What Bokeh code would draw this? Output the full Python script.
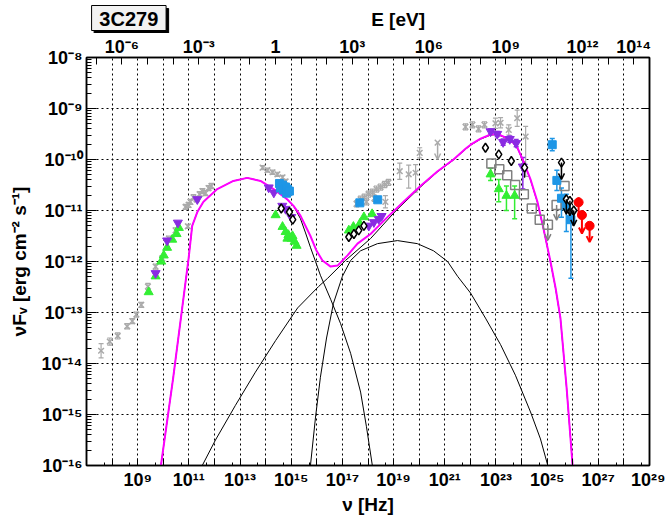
import numpy as np
from bokeh.plotting import figure
from bokeh.layouts import column
from bokeh.core.properties import value
from bokeh.models import (ColumnDataSource, Range1d, LogScale, LogAxis, FixedTicker,
                          CustomJSTickFormatter, Whisker, TeeHead, Arrow, OpenHead)
from bokeh.embed import file_html
from bokeh.resources import INLINE

H_EV = 4.135667696e-15  # eV s, converts nu [Hz] to E [eV]

# ---------------- texts / tick labels ----------------
source_name = "3C279"
x_title = "ν [Hz]"
top_title = "E [eV]"
y_title = "νFᵥ [erg cm⁻² s⁻¹]"
nu_label_exps = [9, 11, 13, 15, 17, 19, 21, 23, 25, 27, 29]
nu_labels = ["10⁹", "10¹¹", "10¹³", "10¹⁵", "10¹⁷", "10¹⁹", "10²¹", "10²³", "10²⁵", "10²⁷", "10²⁹"]
e_label_exps = [-6, -3, 0, 3, 6, 9, 12, 14]
e_labels = ["10⁻⁶", "10⁻³", "1", "10³", "10⁶", "10⁹", "10¹²", "10¹⁴"]
f_label_exps = [-8, -9, -10, -11, -12, -13, -14, -15, -16]
f_labels = ["10⁻⁸", "10⁻⁹", "10⁻¹⁰", "10⁻¹¹", "10⁻¹²", "10⁻¹³", "10⁻¹⁴", "10⁻¹⁵", "10⁻¹⁶"]

# ---------------- model curves (log10 nu, log10 nuFnu) ----------------
total_lognu = [9.88, 10.39, 10.74, 10.99, 11.13, 11.33, 11.57, 12.11, 12.74, 13.28, 13.80, 14.31,
               14.84, 15.09, 15.36, 15.75, 15.99, 16.22, 16.54, 16.81, 17.20, 17.59, 18.10, 18.76,
               19.39, 20.05, 20.72, 21.34, 21.81, 22.01, 22.40, 22.79, 23.06, 23.30, 23.57, 23.84,
               24.08, 24.35, 24.62, 24.86, 25.13, 25.33, 25.52, 25.76, 26.01]
total_logf = [-16.1, -14.27, -12.91, -11.94, -11.30, -11.03, -10.83, -10.58, -10.42, -10.36, -10.42, -10.58,
              -10.78, -10.91, -11.10, -11.50, -11.79, -11.98, -12.10, -12.08, -11.88, -11.65, -11.46, -11.13,
              -10.83, -10.52, -10.23, -10.00, -9.79, -9.71, -9.59, -9.51, -9.50, -9.55, -9.61, -9.77,
              -10.04, -10.39, -10.83, -11.36, -12.00, -12.52, -13.11, -14.47, -16.1]

sync_lognu = [9.88, 10.39, 10.74, 10.99, 11.13, 11.33, 11.57, 12.11, 12.74, 13.28, 13.80, 14.31,
              14.84, 15.09, 15.36, 15.56, 15.75, 15.95, 16.14, 16.54, 16.93, 17.32, 17.71, 17.94, 18.20]
sync_logf = [-16.1, -14.27, -12.91, -11.94, -11.30, -11.03, -10.83, -10.58, -10.42, -10.36, -10.42, -10.58,
             -10.78, -10.91, -11.16, -11.44, -11.72, -12.00, -12.27, -12.74, -13.22, -13.80, -14.56, -15.24, -16.1]

ec_lognu = [11.42, 12.04, 12.82, 13.60, 14.39, 15.25, 16.07, 16.42, 17.12, 18.10, 19.08, 20.05, 20.72,
            21.34, 21.81, 22.01, 22.40, 22.79, 23.06, 23.30, 23.57, 23.84, 24.08, 24.35, 24.62, 24.86,
            25.13, 25.33, 25.52, 25.76, 26.01]
ec_logf = [-16.1, -15.50, -14.82, -14.17, -13.55, -12.91, -12.49, -12.33, -11.98, -11.55, -11.01, -10.54, -10.24,
           -10.01, -9.80, -9.72, -9.60, -9.52, -9.51, -9.56, -9.62, -9.78, -10.05, -10.40, -10.84, -11.37,
           -12.01, -12.53, -13.12, -14.48, -16.1]

ssc_lognu = [15.73, 15.95, 16.14, 16.38, 16.65, 17.00, 17.32, 17.71, 18.37, 19.15, 19.93, 20.56, 21.11,
             21.50, 22.01, 22.59, 23.18, 23.76, 24.35, 24.74, 25.08]
ssc_logf = [-16.1, -15.05, -14.27, -13.50, -12.82, -12.29, -11.98, -11.79, -11.65, -11.59, -11.65, -11.79, -12.00,
            -12.29, -12.62, -13.11, -13.63, -14.23, -14.95, -15.48, -16.1]

# ---------------- data points ----------------
# archival (grey crosses)
gray_lognu = [7.57, 7.91, 8.22, 8.59, 8.79, 8.95, 9.14, 9.40, 9.70, 9.70,
              9.96, 10.22, 10.48, 10.96, 10.87, 10.99, 11.06, 11.18, 11.30, 11.42,
              11.53, 11.65, 11.77, 11.88,
              13.88, 14.07, 14.27, 14.46, 14.66, 14.78,
              17.55, 17.71, 17.86, 17.94, 18.02, 18.18, 18.25, 18.33, 18.49, 18.65,
              18.68, 18.80,
              19.24, 19.59, 19.86, 20.02,
              21.81, 22.08, 22.32, 22.55, 22.98, 23.18, 23.50, 23.83, 24.16]
gray_logf = [-13.75, -13.57, -13.46, -13.27, -13.17, -13.04, -12.85, -12.49, -12.27, -12.10,
             -11.94, -11.55, -11.39, -11.31, -10.93, -10.89, -10.83, -10.74, -10.78, -10.68,
             -10.62, -10.66, -10.56, -10.52,
             -10.16, -10.21, -10.25, -10.29, -10.35, -10.43,
             -10.87, -10.78, -10.74, -10.83, -10.68, -10.64, -10.76, -10.58, -10.54, -10.49,
             -10.83, -10.45,
             -10.23, -10.29, -10.26, -9.87,
             -9.36, -9.32, -9.40, -9.32, -9.29, -9.28, -9.42, -9.19, -9.55]
gray_err_hi = [0.14, 0.07, 0.06, 0.05, 0.05, 0.05, 0.05, 0.06, 0.05, 0.05,
               0.05, 0.05, 0.05, 0.04, 0.05, 0.05, 0.05, 0.05, 0.05, 0.05,
               0.05, 0.05, 0.05, 0.05,
               0.04, 0.04, 0.04, 0.04, 0.04, 0.04,
               0.06, 0.06, 0.06, 0.06, 0.06, 0.06, 0.06, 0.06, 0.06, 0.06,
               0.12, 0.06,
               0.16, 0.18, 0.16, 0.10,
               0.06, 0.06, 0.06, 0.06, 0.10, 0.10, 0.10, 0.16, 0.20]
gray_err_lo = [0.14, 0.07, 0.06, 0.05, 0.05, 0.05, 0.05, 0.06, 0.05, 0.05,
               0.05, 0.05, 0.05, 0.04, 0.05, 0.05, 0.05, 0.05, 0.05, 0.05,
               0.05, 0.05, 0.05, 0.05,
               0.04, 0.04, 0.04, 0.04, 0.04, 0.04,
               0.06, 0.06, 0.06, 0.06, 0.06, 0.06, 0.06, 0.06, 0.06, 0.06,
               0.12, 0.06,
               0.16, 0.27, 0.38, 0.10,
               0.06, 0.06, 0.06, 0.06, 0.10, 0.10, 0.10, 0.16, 0.78]
gray_ul_lognu = [20.72]
gray_ul_logf = [-9.67]
gray_ul_end = [-10.00]

# open black diamonds
diam_lognu = [14.61, 14.93, 15.06, 17.25, 17.45, 17.64, 17.84, 22.59, 23.11, 23.60, 24.12]
diam_logf = [-10.96, -11.03, -11.18, -11.52, -11.46, -11.39, -11.30, -9.77, -9.90, -10.03, -10.16]
diam_err_hi = [0.03, 0.03, 0.03, 0.03, 0.03, 0.03, 0.03, 0.06, 0.06, 0.08, 0.12]
diam_err_lo = [0.03, 0.03, 0.03, 0.03, 0.03, 0.03, 0.03, 0.06, 0.06, 0.08, 0.20]
diam_ul_lognu = [25.56, 25.75, 25.89, 26.04]
diam_ul_logf = [-10.06, -10.78, -10.81, -11.00]
diam_ul_end = [-10.39, -11.07, -11.10, -11.30]

# green triangles
green_lognu = [9.43, 9.70, 9.92, 10.02, 10.15, 10.35, 10.52, 10.61, 14.39,
               14.66, 14.78, 14.85, 14.89, 15.01, 15.05, 15.13, 15.21,
               17.25, 17.43, 17.68, 17.84, 18.16]
green_logf = [-12.60, -12.29, -12.00, -11.88, -11.73, -11.57, -11.46, -11.34, -11.09,
              -11.32, -11.42, -11.55, -11.48, -11.55, -11.50, -11.61, -11.69,
              -11.39, -11.32, -11.26, -11.13, -11.07]
green_gam_lognu = [22.79, 23.11, 23.41, 23.73]
green_gam_logf = [-10.29, -10.58, -10.71, -10.71]
green_gam_err_hi = [0.12, 0.19, 0.19, 0.19]
green_gam_err_lo = [0.12, 0.25, 0.29, 0.45]

# purple inverted triangles
purple_lognu = [9.70, 10.15, 10.57, 11.33, 14.12, 14.32, 14.65, 14.78, 15.00, 18.03, 18.23, 18.42, 18.53]
purple_logf = [-12.23, -11.59, -11.24, -10.78, -10.55, -10.65, -10.91, -10.97, -11.13, -11.30, -11.23, -11.17, -11.11]
purple_gam_lognu = [22.79, 23.05, 23.28, 23.54, 23.79, 24.05]
purple_gam_logf = [-9.45, -9.50, -9.66, -9.60, -9.68, -10.14]
purple_gam_err_hi = [0.05, 0.05, 0.06, 0.06, 0.07, 0.18]
purple_gam_err_lo = [0.05, 0.05, 0.06, 0.06, 0.07, 0.44]

# blue squares
blue_lognu = [14.54, 14.58, 14.66, 14.70, 14.78, 14.82, 14.85, 14.93, 17.68, 18.38]
blue_logf = [-10.47, -10.56, -10.50, -10.60, -10.54, -10.66, -10.58, -10.62, -10.85, -10.79]
blue_tev_lognu = [25.20, 25.38, 25.56, 25.75, 25.93]
blue_tev_logf = [-9.71, -10.41, -10.76, -10.91, -11.18]
blue_tev_err_hi = [0.12, 0.20, 0.20, 0.23, 0.21]
blue_tev_err_lo = [0.12, 0.20, 0.37, 0.50, 1.15]

# open grey squares
gsq_lognu = [22.82, 23.13, 23.44, 23.75, 24.09, 24.40, 24.71, 25.68]
gsq_logf = [-10.08, -10.19, -10.31, -10.50, -10.68, -10.96, -11.18, -10.52]
gsq_ul_lognu = [25.03, 25.37]
gsq_ul_logf = [-11.28, -10.89]
gsq_ul_end = [-11.58, -11.19]

# red circles
red_lognu = [26.23]
red_logf = [-10.84]
red_err_hi = [0.10]
red_err_lo = [0.25]
red_ul_lognu = [26.36, 26.66]
red_ul_logf = [-11.09, -11.30]
red_ul_end = [-11.45, -11.62]

# ---------------- styling ----------------
FONT = "Liberation Sans"
C_GRAY = "#aaaaaa"
C_GREEN = "#33ee33"
C_PURPLE = "#8a2be2"
C_BLUE = "#1e96e6"
C_GSQ = "#808080"
C_RED = "#ff0000"
C_MAG = "#ff00ff"


def P(a):
    return 10.0 ** np.asarray(a, dtype=float)


# ---------------- header strip (source box and top-axis title) ----------------
hdr = figure(width=665, height=33, x_range=Range1d(0, 665), y_range=Range1d(33, 0),
             output_backend="svg", toolbar_location=None, min_border=0)
hdr.axis.visible = False
hdr.grid.visible = False
hdr.outline_line_color = None
hdr.background_fill_color = "white"
hdr.border_fill_color = "white"
hdr.quad(left=[9], right=[97], top=[8], bottom=[33], fill_color="black", line_color="black")
hdr.quad(left=[6], right=[94], top=[5], bottom=[30], fill_color="#f2f2f2", line_color="black", line_width=1)
hdr.text(x=[50], y=[18.5], text=[source_name], text_font=value(FONT), text_font_style="bold",
         text_font_size="20px", text_align="center", text_baseline="middle", text_color="black")
hdr.text(x=[368], y=[19], text=[top_title], text_font=value(FONT), text_font_style="bold",
         text_font_size="19px", text_align="center", text_baseline="middle", text_color="black")

# ---------------- main plot ----------------
p = figure(width=665, height=484, x_axis_type="log", y_axis_type="log",
           x_range=Range1d(1e7, 1e29), y_range=Range1d(1e-16, 1e-8),
           output_backend="svg", toolbar_location=None,
           min_border_left=86, min_border_right=16, min_border_top=24, min_border_bottom=48)
p.background_fill_color = "white"
p.border_fill_color = "white"
p.outline_line_color = "black"
p.outline_line_width = 1.5


def fmt(exps, labs):
    return CustomJSTickFormatter(args=dict(exps=exps, labs=labs), code="""
        const e = Math.round(Math.log10(tick));
        const i = exps.indexOf(e);
        return i < 0 ? "" : labs[i];
    """)


blank_fmt = CustomJSTickFormatter(code='return "";')

nu_ticker = FixedTicker(ticks=[10.0 ** k for k in range(7, 30)],
                        minor_ticks=[5 * 10.0 ** k for k in range(7, 29)])
f_ticker = FixedTicker(ticks=[10.0 ** k for k in range(-16, -7)],
                       minor_ticks=[m * 10.0 ** k for k in range(-16, -8) for m in range(2, 10)])
e_ticker = FixedTicker(ticks=[10.0 ** k for k in range(-7, 15)])


def style_axis(ax, tick_in, minor_in, standoff):
    ax.major_tick_in = tick_in
    ax.major_tick_out = 0
    ax.minor_tick_in = minor_in
    ax.minor_tick_out = 0
    ax.major_tick_line_color = "black"
    ax.minor_tick_line_color = "black"
    ax.major_tick_line_width = 1
    ax.axis_line_color = "black"
    ax.axis_line_width = 1.5
    ax.major_label_text_font = FONT
    ax.major_label_text_font_style = "bold"
    ax.major_label_text_font_size = "18px"
    ax.major_label_text_color = "black"
    ax.major_label_standoff = standoff
    ax.axis_label_text_font = FONT
    ax.axis_label_text_font_style = "bold"
    ax.axis_label_text_font_size = "19px"
    ax.axis_label_text_color = "black"


xb = p.below[0]
xb.ticker = nu_ticker
xb.formatter = fmt(nu_label_exps, nu_labels)
style_axis(xb, 7, 3, 4)
xb.axis_label = x_title
xb.axis_label_standoff = 1

yl = p.left[0]
yl.ticker = f_ticker
yl.formatter = fmt(f_label_exps, f_labels)
style_axis(yl, 10, 5, 4)
yl.axis_label = y_title
yl.axis_label_standoff = 9

p.extra_x_ranges = {"E": Range1d(1e7 * H_EV, 1e29 * H_EV)}
p.extra_x_scales = {"E": LogScale()}
xt = LogAxis(x_range_name="E", ticker=e_ticker, formatter=fmt(e_label_exps, e_labels))
style_axis(xt, 7, 0, 1)
p.add_layout(xt, "above")

yr = LogAxis(ticker=FixedTicker(ticks=[10.0 ** k for k in range(-16, -7)]), formatter=blank_fmt)
style_axis(yr, 8, 0, 0)
yr.major_label_text_font_size = "0px"
p.add_layout(yr, "right")

p.xgrid.ticker = nu_ticker
p.ygrid.ticker = FixedTicker(ticks=[10.0 ** k for k in range(-16, -7)])
for g in (p.xgrid[0], p.ygrid[0]):
    g.grid_line_color = "black"
    g.grid_line_dash = "2 3"
    g.grid_line_width = 1

# ---------------- model curves ----------------
p.line(P(ec_lognu), P(ec_logf), line_color="black", line_width=1)
p.line(P(ssc_lognu), P(ssc_logf), line_color="black", line_width=1)
p.line(P(sync_lognu), P(sync_logf), line_color="black", line_width=1)
p.line(P(total_lognu), P(total_logf), line_color=C_MAG, line_width=2)


# ---------------- helpers for error bars / limits ----------------
def whiskers(lognu, logf, elo, ehi, color, head=5, width=1.2):
    lf = np.asarray(logf, dtype=float)
    src = ColumnDataSource(dict(x=P(lognu), lo=P(lf - np.asarray(elo)), hi=P(lf + np.asarray(ehi))))
    kw = dict(base="x", lower="lo", upper="hi", source=src, dimension="height",
              line_color=color, line_width=width)
    if head:
        kw["upper_head"] = TeeHead(size=head, line_color=color, line_width=width)
        kw["lower_head"] = TeeHead(size=head, line_color=color, line_width=width)
    else:
        kw["upper_head"] = None
        kw["lower_head"] = None
    p.add_layout(Whisker(**kw))


def limits(lognu, logf, logend, color, width=1.5):
    src = ColumnDataSource(dict(x=P(lognu), y0=P(logf), y1=P(logend)))
    p.add_layout(Arrow(end=OpenHead(size=6, line_color=color, line_width=width),
                       x_start="x", y_start="y0", x_end="x", y_end="y1", source=src,
                       line_color=color, line_width=width))


# grey archival
whiskers(gray_lognu, gray_logf, gray_err_lo, gray_err_hi, C_GRAY, head=5)
p.scatter(P(gray_lognu), P(gray_logf), marker="x", size=8, line_color=C_GRAY, line_width=1.5)
limits(gray_ul_lognu, gray_ul_logf, gray_ul_end, C_GRAY)
p.scatter(P(gray_ul_lognu), P(gray_ul_logf), marker="x", size=8, line_color=C_GRAY, line_width=1.5)

# open grey squares
limits(gsq_ul_lognu, gsq_ul_logf, gsq_ul_end, C_GSQ)
p.scatter(P(gsq_lognu + gsq_ul_lognu), P(gsq_logf + gsq_ul_logf), marker="square", size=9,
          fill_color="white", fill_alpha=0, line_color=C_GSQ, line_width=1.5)

# green
whiskers(green_gam_lognu, green_gam_logf, green_gam_err_lo, green_gam_err_hi, C_GREEN, head=5, width=1.5)
p.scatter(P(green_lognu + green_gam_lognu), P(green_logf + green_gam_logf), marker="triangle", size=9,
          fill_color=C_GREEN, line_color=C_GREEN)

# purple
whiskers(purple_gam_lognu, purple_gam_logf, purple_gam_err_lo, purple_gam_err_hi, C_PURPLE, head=5, width=1.5)
p.scatter(P(purple_lognu + purple_gam_lognu), P(purple_logf + purple_gam_logf), marker="inverted_triangle",
          size=9, fill_color=C_PURPLE, line_color=C_PURPLE)

# blue
whiskers(blue_tev_lognu, blue_tev_logf, blue_tev_err_lo, blue_tev_err_hi, C_BLUE, head=5, width=1.5)
p.scatter(P(blue_lognu + blue_tev_lognu), P(blue_logf + blue_tev_logf), marker="square", size=8,
          fill_color=C_BLUE, line_color=C_BLUE)

# black open diamonds
whiskers(diam_lognu, diam_logf, diam_err_lo, diam_err_hi, "black", head=0, width=1.2)
limits(diam_ul_lognu, diam_ul_logf, diam_ul_end, "black")
p.scatter(P(diam_lognu + diam_ul_lognu), P(diam_logf + diam_ul_logf), marker="diamond", size=9,
          fill_color="white", line_color="black", line_width=1.5)

# red
whiskers(red_lognu, red_logf, red_err_lo, red_err_hi, C_RED, head=0, width=2)
limits(red_ul_lognu, red_ul_logf, red_ul_end, C_RED, width=2)
p.scatter(P(red_lognu + red_ul_lognu), P(red_logf + red_ul_logf), marker="circle", size=9,
          fill_color=C_RED, line_color=C_RED)

layout = column(hdr, p, spacing=0)
open("out.html", "w").write(file_html(layout, INLINE, title="3C279"))
